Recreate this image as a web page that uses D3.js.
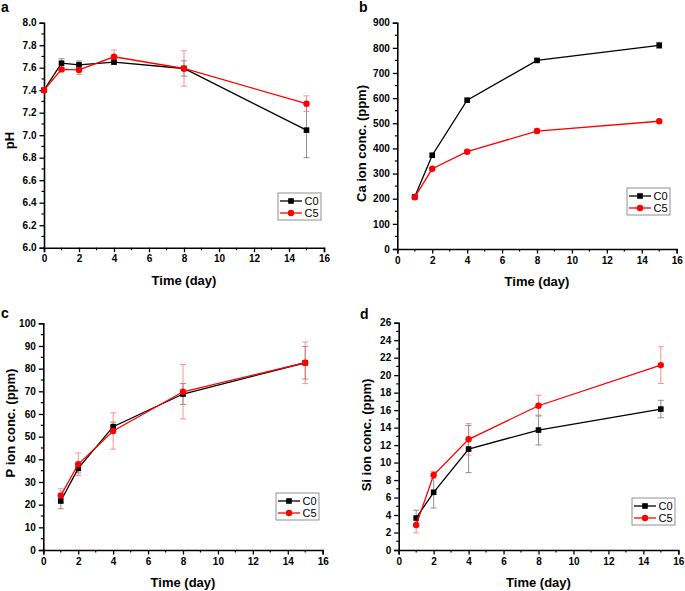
<!DOCTYPE html>
<html><head><meta charset="utf-8">
<script src="https://cdn.jsdelivr.net/npm/d3@7"></script>
<style>body{margin:0;background:#fff}svg{display:block}</style>
</head><body>
<svg id="c" width="685" height="591"></svg>
<script>
// ---- data ----
const seriesNames = ["C0", "C5"];
const daysPH = [0, 1, 2, 4, 8, 15];
const days = [1, 2, 4, 8, 15];
const xTicks = [0, 2, 4, 6, 8, 10, 12, 14, 16];

const phC0 = [7.40, 7.64, 7.625, 7.65, 7.593, 7.045];
const phC0err = [0.01, 0.04, 0.035, 0.02, 0.068, 0.245];
const phC5 = [7.40, 7.585, 7.58, 7.697, 7.593, 7.28];
const phC5err = [0.01, 0.02, 0.04, 0.06, 0.157, 0.07];

const caC0 = [208, 373, 592, 750, 810];
const caC0err = [5, 5, 5, 6, 12];
const caC5 = [206, 319, 387, 469, 508];
const caC5err = [5, 5, 6, 8, 6];

const pC0 = [21.6, 36.0, 54.4, 68.8, 82.6];
const pC0err = [3.4, 2.0, 2.0, 4.6, 7.2];
const pC5 = [24.0, 37.8, 52.5, 69.8, 82.6];
const pC5err = [3.0, 5.0, 8.0, 12.0, 9.2];

const siC0 = [3.66, 6.6, 11.55, 13.72, 16.12];
const siC0err = [0.9, 1.8, 2.7, 1.7, 1.0];
const siC5 = [2.86, 8.58, 12.66, 16.5, 21.15];
const siC5err = [0.9, 0.4, 1.8, 1.2, 2.1];

const phTicks = [6.0, 6.2, 6.4, 6.6, 6.8, 7.0, 7.2, 7.4, 7.6, 7.8, 8.0];
const caTicks = [0, 100, 200, 300, 400, 500, 600, 700, 800, 900];
const pTicks = [0, 10, 20, 30, 40, 50, 60, 70, 80, 90, 100];
const siTicks = [0, 2, 4, 6, 8, 10, 12, 14, 16, 18, 20, 22, 24, 26];

const svg = d3.select("#c");
const FONT = "'Liberation Sans', Arial, sans-serif";
const colors = {C0: "#000000", C5: "#ff0000"};
const errColors = {C0: "rgba(110,110,110,0.75)", C5: "rgba(255,110,110,0.75)"};

function panel(o) {
  const g = svg.append("g");
  const x = d3.scaleLinear().domain([0, 16]).range([o.x0, o.x1]);
  const y = d3.scaleLinear().domain(o.ydom).range([o.yb, o.yt]);

  // axes
  const xAxis = d3.axisBottom(x).tickValues(xTicks).tickFormat(d3.format("d")).tickSize(4.5).tickPadding(3);
  const gx = g.append("g").attr("transform", `translate(0,${o.yb})`).call(xAxis);
  const xMinor = d3.range(1, 16, 2);
  gx.selectAll(".minor").data(xMinor).enter().append("line")
    .attr("x1", d => x(d)).attr("x2", d => x(d)).attr("y1", 0).attr("y2", 2.5)
    .attr("stroke", "#000").attr("stroke-width", 1.2);

  const yAxis = d3.axisLeft(y).tickValues(o.yticks).tickFormat(o.yfmt).tickSize(4.5).tickPadding(3);
  const gy = g.append("g").attr("transform", `translate(${o.x0},0)`).call(yAxis);
  const ymin = [];
  for (let i = 0; i < o.yticks.length - 1; i++) ymin.push((o.yticks[i] + o.yticks[i + 1]) / 2);
  gy.selectAll(".minor").data(ymin).enter().append("line")
    .attr("x1", 0).attr("x2", -2.5).attr("y1", d => y(d)).attr("y2", d => y(d))
    .attr("stroke", "#000").attr("stroke-width", 1.2);

  [gx, gy].forEach(a => {
    a.select(".domain").attr("stroke-width", 1.6).attr("stroke", "#000");
    a.selectAll(".tick line").attr("stroke-width", 1.3);
    a.selectAll(".tick text").attr("font-family", FONT).attr("font-weight", "bold")
      .attr("font-size", 10).attr("fill", "#000");
  });

  // titles
  g.append("text").attr("x", (o.x0 + o.x1) / 2).attr("y", o.yb + 37).attr("text-anchor", "middle")
    .attr("font-family", FONT).attr("font-weight", "bold").attr("font-size", 13).text("Time (day)");
  g.append("text").attr("transform", `translate(${o.ytx},${o.ytc}) rotate(-90)`)
    .attr("text-anchor", "middle").attr("font-family", FONT).attr("font-weight", "bold")
    .attr("font-size", 13).text(o.ytitle);
  g.append("text").attr("x", o.lx).attr("y", o.ly).attr("font-family", FONT).attr("font-weight", "bold")
    .attr("font-size", 14).text(o.letter);

  const line = d3.line().x(d => x(d[0])).y(d => y(d[1]));
  o.series.forEach(s => {
    const pts = o.days.map((d, i) => [d, s.v[i], s.e[i]]);
    const eb = g.append("g").attr("stroke", errColors[s.name]).attr("stroke-width", 1);
    pts.forEach(p => {
      eb.append("line").attr("x1", x(p[0])).attr("x2", x(p[0])).attr("y1", y(p[1] - p[2])).attr("y2", y(p[1] + p[2]));
      [p[1] - p[2], p[1] + p[2]].forEach(v => eb.append("line").attr("x1", x(p[0]) - 3).attr("x2", x(p[0]) + 3)
        .attr("y1", y(v)).attr("y2", y(v)));
    });
  });
  o.series.forEach(s => {
    const pts = o.days.map((d, i) => [d, s.v[i]]);
    g.append("path").datum(pts).attr("d", line).attr("fill", "none").attr("stroke", colors[s.name]).attr("stroke-width", 1.3);
    if (s.name === "C0") {
      g.selectAll(null).data(pts).enter().append("rect")
        .attr("x", d => x(d[0]) - 2.8).attr("y", d => y(d[1]) - 2.8).attr("width", 5.6).attr("height", 5.6)
        .attr("fill", "#000");
    } else {
      g.selectAll(null).data(pts).enter().append("circle")
        .attr("cx", d => x(d[0])).attr("cy", d => y(d[1])).attr("r", 3.2).attr("fill", "#ff0000");
    }
  });

  // legend
  const L = g.append("g").attr("transform", `translate(${o.legx},${o.legy})`);
  L.append("rect").attr("width", 43).attr("height", 27).attr("fill", "#fff").attr("stroke", "#777").attr("stroke-width", 0.8);
  seriesNames.forEach((n, i) => {
    const cy = 8 + i * 12;
    L.append("line").attr("x1", 2).attr("x2", 24).attr("y1", cy).attr("y2", cy).attr("stroke", colors[n]).attr("stroke-width", 1.3);
    if (n === "C0") L.append("rect").attr("x", 13 - 2.8).attr("y", cy - 2.8).attr("width", 5.6).attr("height", 5.6).attr("fill", "#000");
    else L.append("circle").attr("cx", 13).attr("cy", cy).attr("r", 3.2).attr("fill", "#ff0000");
    L.append("text").attr("x", 26.5).attr("y", cy + 4).attr("font-family", FONT).attr("font-size", 11).text(n);
  });
}

panel({x0: 44, x1: 324, yb: 247.7, yt: 22.7, ydom: [6, 8], yticks: phTicks, yfmt: d3.format(".1f"),
  days: daysPH, series: [{name: "C0", v: phC0, e: phC0err}, {name: "C5", v: phC5, e: phC5err}],
  ytitle: "pH", ytx: 14, ytc: 140.5, letter: "a", lx: 1, ly: 12, legx: 278, legy: 193});
panel({x0: 397.3, x1: 676.7, yb: 249, yt: 22.7, ydom: [0, 900], yticks: caTicks, yfmt: d3.format("d"),
  days: days, series: [{name: "C0", v: caC0, e: caC0err}, {name: "C5", v: caC5, e: caC5err}],
  ytitle: "Ca ion conc. (ppm)", ytx: 366, ytc: 143.5, letter: "b", lx: 359, ly: 12, legx: 627, legy: 188});
panel({x0: 43.3, x1: 322.7, yb: 550, yt: 323.3, ydom: [0, 100], yticks: pTicks, yfmt: d3.format("d"),
  days: days, series: [{name: "C0", v: pC0, e: pC0err}, {name: "C5", v: pC5, e: pC5err}],
  ytitle: "P ion conc. (ppm)", ytx: 15, ytc: 423, letter: "c", lx: 1, ly: 318, legx: 276, legy: 493});
panel({x0: 398.7, x1: 678.3, yb: 550, yt: 322.7, ydom: [0, 26], yticks: siTicks, yfmt: d3.format("d"),
  days: days, series: [{name: "C0", v: siC0, e: siC0err}, {name: "C5", v: siC5, e: siC5err}],
  ytitle: "Si ion conc. (ppm)", ytx: 371, ytc: 435, letter: "d", lx: 360, ly: 319, legx: 632, legy: 498});
</script>
</body></html>
